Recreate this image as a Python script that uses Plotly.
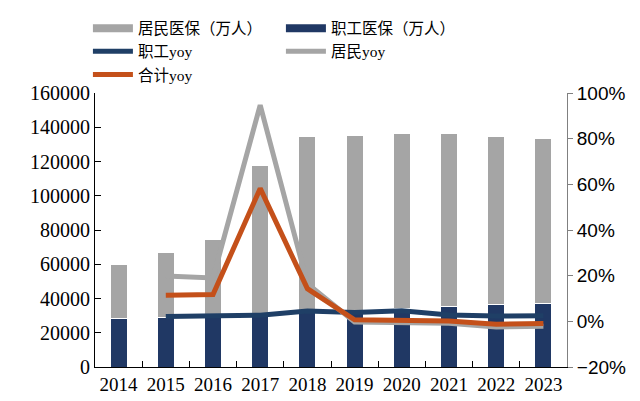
import plotly.graph_objects as go

years = ["2014", "2015", "2016", "2017", "2018", "2019", "2020", "2021", "2022", "2023"]
zhigong = [28296, 28893, 29532, 30323, 31681, 32925, 34455, 35431, 36243, 37095]
jumin = [31451, 37689, 44860, 87359, 102778, 102483, 101676, 100866, 98349, 96294]
zhigong_yoy = [None, 2.1, 2.2, 2.7, 4.5, 3.9, 4.6, 2.8, 2.3, 2.4]
jumin_yoy = [None, 19.8, 19.0, 94.7, 16.5, -0.3, -0.8, -0.8, -2.5, -2.1]
heji_yoy = [None, 11.4, 11.7, 58.2, 14.3, 0.7, 0.5, 0.1, -1.3, -0.9]

NAVY = "#203864"
GRAY = "#a5a5a5"
LNAVY = "#1f3f66"
ORANGE = "#c4501a"

serif = "Liberation Serif, Times New Roman, Noto Sans CJK SC"
sans = "Liberation Sans, Arial"

fig = go.Figure()
fig.add_trace(go.Bar(x=years, y=zhigong, name="职工医保（万人）",
                     marker=dict(color=NAVY, line=dict(color="white", width=1)),
                     showlegend=False, width=0.36))
fig.add_trace(go.Bar(x=years, y=jumin, name="居民医保（万人）",
                     marker=dict(color=GRAY, line=dict(color="white", width=1)),
                     showlegend=False, width=0.36))
# legend entries (bars shown as wide swatches)
fig.add_trace(go.Scatter(x=[None], y=[None], name="居民医保（万人）", mode="lines",
                         line=dict(color=GRAY, width=8), legendrank=1))
fig.add_trace(go.Scatter(x=[None], y=[None], name="职工医保（万人）", mode="lines",
                         line=dict(color=NAVY, width=8), legendrank=2))
fig.add_trace(go.Scatter(x=years, y=zhigong_yoy, name="职工yoy", mode="lines", yaxis="y2",
                         line=dict(color=LNAVY, width=5), legendrank=3))
fig.add_trace(go.Scatter(x=years, y=jumin_yoy, name="居民yoy", mode="lines", yaxis="y2",
                         line=dict(color=GRAY, width=5), legendrank=4))
fig.add_trace(go.Scatter(x=years, y=heji_yoy, name="合计yoy", mode="lines", yaxis="y2",
                         line=dict(color=ORANGE, width=5), legendrank=5))

fig.update_layout(
    width=640, height=401,
    margin=dict(l=95, r=73, t=91, b=34),
    barmode="stack",
    plot_bgcolor="white", paper_bgcolor="white",
    font=dict(family=serif, size=20, color="black"),
    xaxis=dict(type="category", showline=True, linecolor="black", linewidth=1,
               ticks="inside", tickson="boundaries", ticklen=6, tickcolor="black",
               tickangle=0, tickfont=dict(family=serif, size=19), showgrid=False,
               automargin=False),
    yaxis=dict(range=[0, 160000], dtick=20000, tickformat="d", showline=True,
               linecolor="black", linewidth=1,
               ticks="inside", ticklen=6, tickcolor="black", showgrid=False,
               tickfont=dict(family=serif, size=20), zeroline=False),
    yaxis2=dict(range=[-20, 100], dtick=20, overlaying="y", side="right", showline=True,
                linecolor="#808080", linewidth=1, ticks="outside", ticklen=5, tickcolor="#808080",
                ticksuffix="%", showgrid=False, zeroline=False,
                tickfont=dict(family=sans, size=19)),
    legend=dict(orientation="h", x=-0.015, xanchor="left", y=1.297, yanchor="top",
                entrywidth=138, font=dict(family=serif, size=15.5), traceorder="normal",
                itemwidth=40, tracegroupgap=0, bgcolor="rgba(0,0,0,0)"),
)
fig.write_html("out.html")
